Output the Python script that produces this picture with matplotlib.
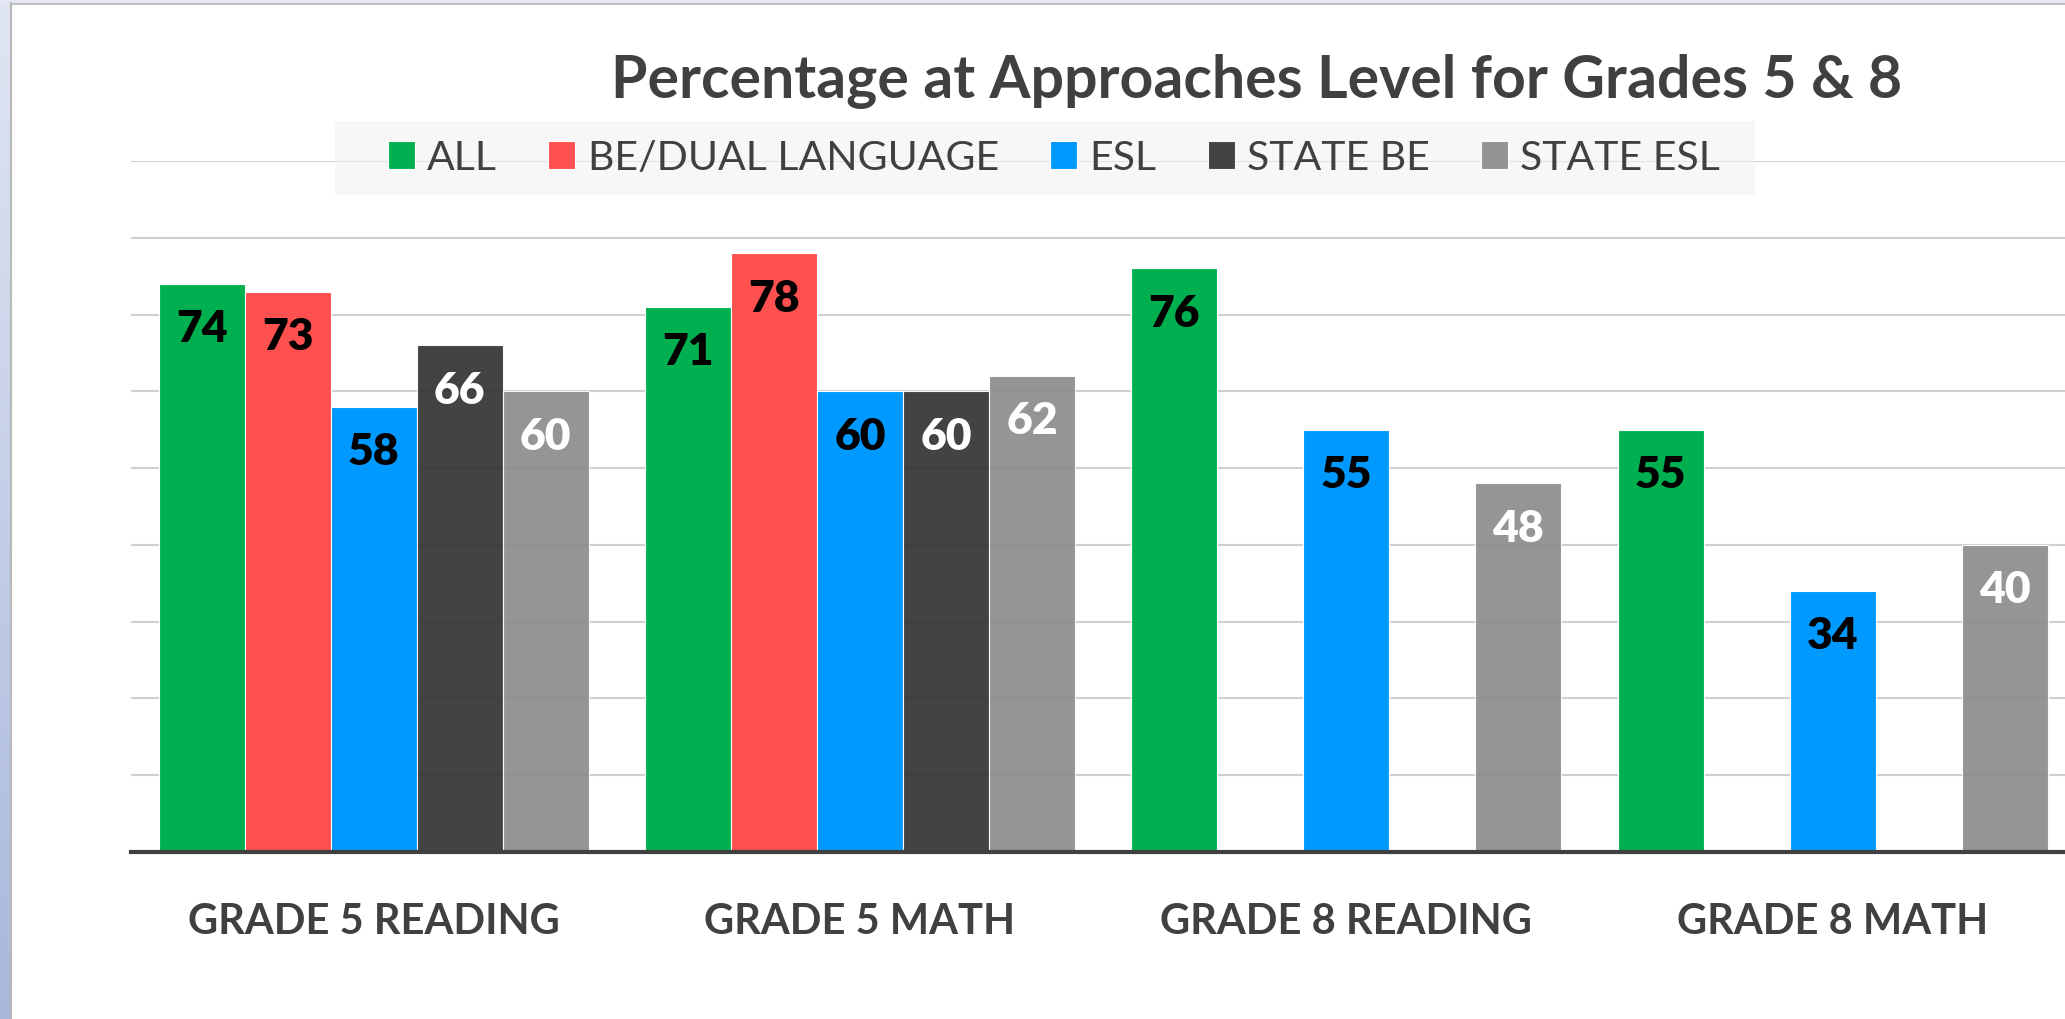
import numpy as np
import matplotlib.pyplot as plt
from matplotlib.patches import Rectangle
from matplotlib.lines import Line2D
from matplotlib.ticker import MultipleLocator

# data
categories = ["GRADE 5 READING", "GRADE 5 MATH", "GRADE 8 READING", "GRADE 8 MATH"]
series = ["ALL", "BE/DUAL LANGUAGE", "ESL", "STATE BE", "STATE ESL"]
all_vals = [74, 71, 76, 55]
be_dual = [73, 78, None, None]
esl = [58, 60, 55, 34]
state_be = [66, 60, None, None]
state_esl = [60, 62, 48, 40]

colors = ["#00b050", "#ff5050", "#0099ff", "#333333", "#8c8c8c"]
label_colors = ["black", "black", "black", "white", "white"]
title = "Percentage at Approaches Level for Grades 5 & 8"

plt.rcParams['font.family'] = ['Lato', 'DejaVu Sans']

W, H = 2065, 1020
fig = plt.figure(figsize=(W / 100, H / 100), dpi=100)

# screenshot frame on left and top
bax = fig.add_axes([0, 0, 10 / W, 1])
top_c = np.array([0.88, 0.90, 0.95])
bot_c = np.array([0.66, 0.72, 0.86])
grad = np.linspace(0, 1, 256)[:, None, None] * (bot_c - top_c) + top_c
bax.imshow(grad, aspect='auto', extent=[0, 1, 0, 1])
bax.axis('off')
fig.patches.append(Rectangle((0, 1 - 4 / H), 1, 4 / H, transform=fig.transFigure,
                             facecolor='#e3e8f3', edgecolor='none'))
fig.add_artist(Line2D([10.5 / W] * 2, [0, 1 - 4 / H], color='#b8b8b8', lw=1.5))
fig.add_artist(Line2D([10.5 / W, 1], [1 - 4.5 / H] * 2, color='#c0c0c0', lw=1.5))

ax = fig.add_axes([130.5 / W, (H - 853) / H, (2076 - 130.5) / W, (853 - 162) / H])
x = np.arange(len(categories))
bw = 86 / 486.5

for i, vals in enumerate([all_vals, be_dual, esl, state_be, state_esl]):
    pos = [x[j] + (i - 2) * bw for j in range(len(vals)) if vals[j] is not None]
    hts = [v for v in vals if v is not None]
    alpha = 0.92 if i >= 3 else 1.0
    ax.bar(pos, hts, bw, color=colors[i], edgecolor='white', linewidth=0.8,
           alpha=alpha, label=series[i], zorder=2)
    for xp, v in zip(pos, hts):
        ax.annotate(str(v), (xp, v), xytext=(0, -32), textcoords='offset points',
                    ha='center', va='center', fontsize=32, fontweight='heavy',
                    color=label_colors[i], zorder=3)

ax.set_xlim(-0.5, 3.5)
ax.set_ylim(0, 90)
ax.yaxis.set_major_locator(MultipleLocator(10))
ax.grid(axis='y', color='#d0d0d0', lw=1.5)
ax.set_axisbelow(True)
for s in ['top', 'right', 'left']:
    ax.spines[s].set_visible(False)
ax.spines['bottom'].set_color('#404040')
ax.spines['bottom'].set_linewidth(3)
ax.spines['bottom'].set_zorder(4)
ax.tick_params(axis='y', left=False, labelleft=False)
ax.tick_params(axis='x', length=0, pad=36)
ax.set_xticks(x)
ax.set_xticklabels(categories, fontsize=30, fontweight='bold', color='#404040')

# legend with a pale see-through box behind it
fig.patches.append(Rectangle((335 / W, 1 - 196 / H), (1755 - 335) / W, 74 / H,
                             transform=fig.transFigure, facecolor='#f2f2f2',
                             alpha=0.55, edgecolor='none'))
handles, labels = ax.get_legend_handles_labels()
fig.legend(handles, labels, loc='center', ncol=5, frameon=False,
           bbox_to_anchor=(1054 / W, 1 - 159 / H), fontsize=29.5,
           handlelength=0.66, handleheight=0.66, handletextpad=0.3,
           columnspacing=1.25, labelcolor='#404040')

fig.text(1257 / W, 1 - 98 / H, title, ha='center', va='baseline', fontsize=42.5,
         fontweight='bold', color='#404040')

fig.savefig('out.png', dpi=100)
